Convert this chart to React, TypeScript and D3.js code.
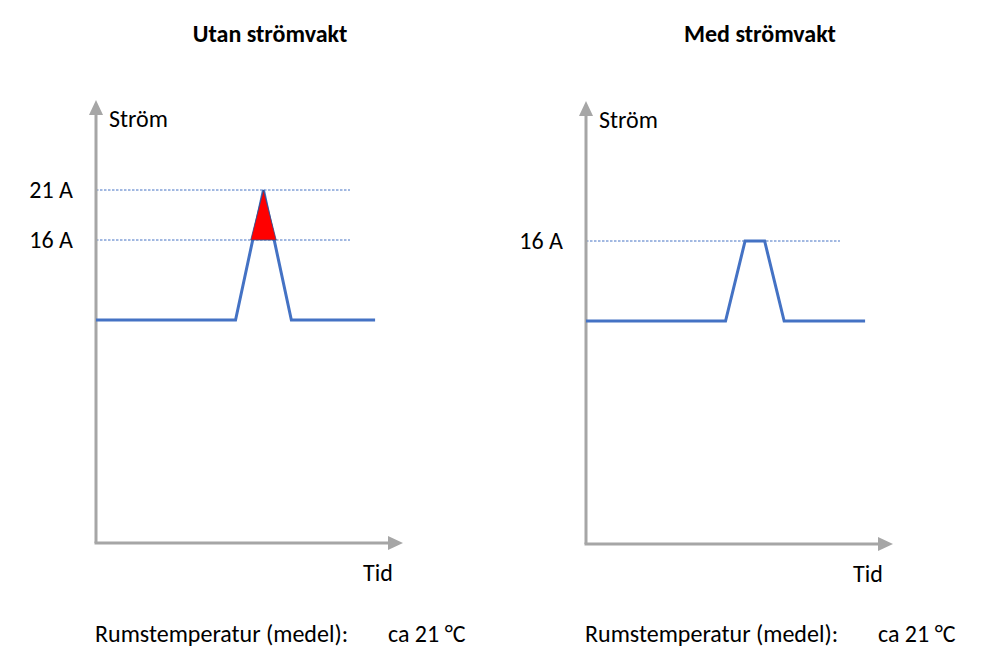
import React from "react";
import * as d3 from "d3";

// Time axis (minutes) and current axis (ampere) shared by both panels
const TIME_MAX = 110;
const AMP_MAX = 30;
const REF_LINE_END = 91;

// Without a current guard: current spikes to 21 A
const leftTimes = [0, 50, 60, 70, 100];
const leftAmps = [8, 8, 21, 8, 8];
const leftRefs = [21, 16];

// With a current guard: current is capped at 16 A
const rightTimes = [0, 50, 57, 64, 71, 100];
const rightAmps = [8, 8, 16, 16, 8, 8];
const rightRefs = [16];

const FUSE_LIMIT = 16;
const titles = ["Utan strömvakt", "Med strömvakt"];
const yAxisLabel = "Ström";
const xAxisLabel = "Tid";
const tempLabel = "Rumstemperatur (medel):";
const tempValue = "ca 21 °C";

const FONT = "Calibri, Carlito, Lato, 'Open Sans', sans-serif";
const FONT_SIZE = 24;
const AXIS_COLOR = "#A6A6A6";
const LINE_COLOR = "#4472C4";
const LINE_WIDTH = 3;

type PanelProps = {
  ox: number;
  oy: number;
  title: string;
  times: number[];
  amps: number[];
  refs: number[];
  overload: boolean;
};

function Panel({ ox, oy, title, times, amps, refs, overload }: PanelProps) {
  const x = d3.scaleLinear().domain([0, TIME_MAX]).range([ox, ox + 307]);
  const y = d3.scaleLinear().domain([0, AMP_MAX]).range([oy - 143, oy - 443]);
  const pts: [number, number][] = times.map((t, i) => [t, amps[i]]);
  const line = d3
    .line<[number, number]>()
    .x((d) => x(d[0]))
    .y((d) => y(d[1]));

  // Part of the curve that exceeds the fuse limit, covering the stroke width
  let excess: string | null = null;
  if (overload) {
    const poly: [number, number][] = [];
    for (let i = 0; i < pts.length - 1; i++) {
      const [t0, a0] = pts[i];
      const [t1, a1] = pts[i + 1];
      if ((a0 - FUSE_LIMIT) * (a1 - FUSE_LIMIT) < 0) {
        const f = (FUSE_LIMIT - a0) / (a1 - a0);
        const px = x(t0 + f * (t1 - t0));
        const pad = a1 > a0 ? -LINE_WIDTH / 2 - 0.5 : LINE_WIDTH / 2 + 0.5;
        poly.push([px + pad, y(FUSE_LIMIT)]);
      }
      if (a1 > FUSE_LIMIT) poly.push([x(t1), y(a1)]);
    }
    excess = "M" + poly.map((p) => p.join(",")).join("L") + "Z";
  }

  const top = y(AMP_MAX);
  const right = x(TIME_MAX);

  return (
    <g fontFamily={FONT} fontSize={FONT_SIZE} fill="#000">
      <text x={ox + 174} y={42} textAnchor="middle" fontWeight="bold">
        {title}
      </text>

      {refs.map((r) => (
        <g key={r}>
          <line
            x1={x(0)}
            x2={x(REF_LINE_END)}
            y1={y(r)}
            y2={y(r)}
            stroke={LINE_COLOR}
            strokeWidth={1}
            strokeDasharray="2.5 1.5"
          />
          <text x={ox - 23} y={y(r) + 8} textAnchor="end">
            {`${r} A`}
          </text>
        </g>
      ))}

      {/* axes with arrowheads */}
      <line x1={ox} y1={oy} x2={ox} y2={top + 12} stroke={AXIS_COLOR} strokeWidth={3} />
      <path d={`M${ox - 7},${top + 15}L${ox},${top}L${ox + 7},${top + 15}Z`} fill={AXIS_COLOR} />
      <line x1={ox - 1.5} y1={oy} x2={right - 12} y2={oy} stroke={AXIS_COLOR} strokeWidth={3} />
      <path d={`M${right - 15},${oy - 7}L${right},${oy}L${right - 15},${oy + 7}Z`} fill={AXIS_COLOR} />

      <path
        d={line(pts) || ""}
        fill="none"
        stroke={LINE_COLOR}
        strokeWidth={LINE_WIDTH}
        strokeLinejoin="miter"
      />
      {excess && <path d={excess} fill="#FF0000" stroke="#2F528F" strokeWidth={0.8} />}

      <text x={ox + 13} y={top + 27}>{yAxisLabel}</text>
      <text x={ox + 267} y={oy + 38}>{xAxisLabel}</text>

      <text x={ox - 1} y={642}>{tempLabel}</text>
      <text x={ox + 292} y={642}>{tempValue}</text>
    </g>
  );
}

export default function App() {
  return (
    <svg
      width={992}
      height={670}
      style={{ position: "absolute", left: 0, top: 0, background: "#fff" }}
    >
      <rect width={992} height={670} fill="#fff" />
      <Panel
        ox={96}
        oy={543}
        title={titles[0]}
        times={leftTimes}
        amps={leftAmps}
        refs={leftRefs}
        overload={true}
      />
      <Panel
        ox={586}
        oy={544}
        title={titles[1]}
        times={rightTimes}
        amps={rightAmps}
        refs={rightRefs}
        overload={false}
      />
    </svg>
  );
}
